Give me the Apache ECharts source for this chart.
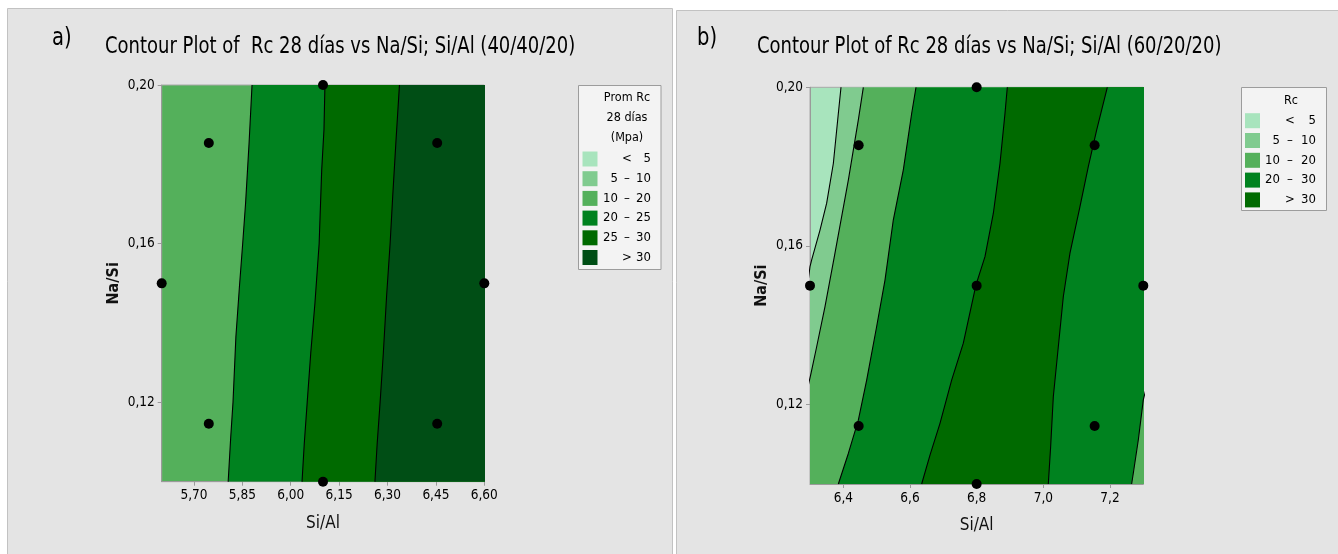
<!DOCTYPE html>
<html>
<head>
<meta charset="utf-8">
<script src="https://cdn.jsdelivr.net/npm/echarts@6/dist/echarts.min.js"></script>
<style>
  html, body { margin: 0; padding: 0; background: #ffffff; }
  #chart { width: 1338px; height: 554px; }
</style>
</head>
<body>
<div id="chart"></div>
<script>
// ---- Panel a) 40/40/20 : contour boundaries as [Si/Al, Na/Si] polylines (top to bottom)
const aEdge10_20 = [[5.880,0.200],[5.871,0.1856],[5.860,0.1702],[5.851,0.160],[5.841,0.1492],[5.830,0.1366],[5.821,0.120],[5.814,0.1113],[5.806,0.100]];
const aEdge25    = [[6.106,0.200],[6.103,0.1887],[6.096,0.1786],[6.088,0.160],[6.075,0.145],[6.062,0.1324],[6.051,0.120],[6.042,0.1097],[6.035,0.100]];
const aEdge30    = [[6.337,0.200],[6.326,0.1856],[6.316,0.1718],[6.308,0.160],[6.297,0.1466],[6.287,0.1324],[6.277,0.120],[6.268,0.1097],[6.261,0.100]];
const aPointsX = [5.6, 5.746, 5.746, 6.1, 6.1, 6.454, 6.454, 6.6];
const aPointsY = [0.15, 0.1146, 0.1854, 0.10, 0.20, 0.1146, 0.1854, 0.15];
const aTicksX = [5.70, 5.85, 6.00, 6.15, 6.30, 6.45, 6.60];
const aTicksY = [0.12, 0.16, 0.20];

// ---- Panel b) 60/20/20
const bEdge5      = [[6.393,0.200],[6.385,0.1934],[6.370,0.1808],[6.350,0.1708],[6.330,0.1640],[6.305,0.1565],[6.300,0.1548],[6.285,0.145],[6.200,0.100]];
const bEdge10     = [[6.460,0.200],[6.445,0.1918],[6.415,0.1766],[6.373,0.1573],[6.345,0.1447],[6.320,0.1346],[6.303,0.1279],[6.290,0.123],[6.230,0.100]];
const bEdge20     = [[6.618,0.200],[6.605,0.1934],[6.580,0.1792],[6.550,0.1666],[6.525,0.1514],[6.500,0.1397],[6.470,0.1262],[6.445,0.1161],[6.415,0.1077],[6.385,0.100]];
const bEdge30     = [[6.892,0.200],[6.885,0.1934],[6.870,0.1808],[6.850,0.1682],[6.825,0.1573],[6.798,0.1502],[6.760,0.1355],[6.725,0.1262],[6.690,0.1153],[6.660,0.1073],[6.635,0.100]];
const bEdge30R    = [[7.192,0.200],[7.160,0.1892],[7.135,0.180],[7.110,0.1699],[7.080,0.1582],[7.060,0.1472],[7.045,0.1346],[7.030,0.1220],[7.022,0.1094],[7.015,0.100]];
const bEdge20R    = [[7.320,0.128],[7.300,0.1212],[7.285,0.1111],[7.270,0.1027],[7.265,0.100]];
const bPointsX = [6.3, 6.446, 6.446, 6.8, 6.8, 6.8, 7.154, 7.154, 7.3];
const bPointsY = [0.15, 0.1146, 0.1854, 0.10, 0.15, 0.20, 0.1146, 0.1854, 0.15];
const bTicksX = [6.4, 6.6, 6.8, 7.0, 7.2];
const bTicksY = [0.12, 0.16, 0.20];

// ---- Legend bands
const aLegendTitle = ['Prom Rc', '28 días', '(Mpa)'];
const aLegendLow  = ['', '5', '10', '20', '25', ''];
const aLegendSep  = ['<', '–', '–', '–', '–', '>'];
const aLegendHigh = ['5', '10', '20', '25', '30', '30'];
const bLegendTitle = ['Rc'];
const bLegendLow  = ['', '5', '10', '20', ''];
const bLegendSep  = ['<', '–', '–', '–', '>'];
const bLegendHigh = ['5', '10', '20', '30', '30'];

const C_LT5 = '#a8e4bd', C_5_10 = '#80cb8f', C_10_20 = '#54b05b', C_20_25 = '#00821f', C_25_30 = '#006a00', C_GT30 = '#004e15';
const aLegendColors = [C_LT5, C_5_10, C_10_20, C_20_25, C_25_30, C_GT30];
const bLegendColors = [C_LT5, C_5_10, C_10_20, C_20_25, C_25_30];

const FONT = '"Liberation Sans Narrow","DejaVu Sans Condensed","Open Sans",sans-serif';
const comma2 = v => v.toFixed(2).replace('.', ',');
const comma1 = v => v.toFixed(1).replace('.', ',');

// region to the right of a boundary, filled up to far past the right edge and clipped to the grid
function band(idx, edge, color) {
  return {
    type: 'custom', xAxisIndex: idx, yAxisIndex: idx, clip: true, silent: true,
    data: edge, encode: { x: 0, y: 1 },
    renderItem: (params, api) => {
      if (params.dataIndex !== 0) return null;
      const first = edge[0], last = edge[edge.length - 1];
      const pts = edge.map(p => api.coord(p));
      pts.push(api.coord([last[0] + 5, last[1]]), api.coord([first[0] + 5, first[1]]));
      return { type: 'polygon', shape: { points: pts }, style: { fill: color } };
    },
    z: 2
  };
}
function edgeLine(idx, edge) {
  return {
    type: 'line', xAxisIndex: idx, yAxisIndex: idx, data: edge, clip: true, silent: true,
    showSymbol: false, symbol: 'none', lineStyle: { color: '#000', width: 1.1 }, z: 3
  };
}
function points(idx, xs, ys) {
  return {
    type: 'scatter', xAxisIndex: idx, yAxisIndex: idx, clip: false, silent: true,
    data: xs.map((x, i) => [x, ys[i]]), symbolSize: 10, itemStyle: { color: '#000', opacity: 1 }, z: 5
  };
}
function xAxis(idx, min, max, ticks, fmt) {
  return {
    type: 'value', gridIndex: idx, min: min, max: max, name: 'Si/Al', nameLocation: 'middle', nameGap: 33,
    nameTextStyle: { fontFamily: FONT, fontSize: 17, color: '#111' },
    axisLine: { show: true, onZero: false, lineStyle: { color: '#9a9a9a' } },
    axisTick: { show: true, customValues: ticks, length: 4, lineStyle: { color: '#9a9a9a' } },
    axisLabel: { customValues: ticks, formatter: fmt, margin: 7, fontFamily: FONT, fontSize: 13.5, color: '#000' },
    splitLine: { show: false }
  };
}
function yAxis(idx, ticks) {
  return {
    type: 'value', gridIndex: idx, min: 0.10, max: 0.20, name: 'Na/Si', nameLocation: 'middle', nameGap: 40,
    nameTextStyle: { fontFamily: FONT, fontSize: 16, fontWeight: 'bold', color: '#111' },
    axisLine: { show: true, onZero: false, lineStyle: { color: '#9a9a9a' } },
    axisTick: { show: true, customValues: ticks, length: 4, lineStyle: { color: '#9a9a9a' } },
    axisLabel: { customValues: ticks, formatter: comma2, margin: 7, fontFamily: FONT, fontSize: 13.5, color: '#000' },
    splitLine: { show: false }
  };
}
function legend(box, titleLines, low, sep, high, colors, cols) {
  const els = [{ type: 'rect', shape: box, style: { fill: '#f3f3f3', stroke: '#9c9c9c', lineWidth: 1 }, z: 10 }];
  titleLines.forEach((t, i) => els.push({
    type: 'text', x: cols.title, y: cols.titleY + i * 20, z: 11,
    style: { text: t, fontFamily: FONT, fontSize: 12.5, fill: '#000', align: 'center', verticalAlign: 'middle' }
  }));
  colors.forEach((c, i) => {
    const y = cols.rowY + i * cols.step;
    els.push({ type: 'rect', shape: { x: cols.sw, y: y - 7.5, width: 15, height: 15 }, style: { fill: c }, z: 11 });
    const ts = (t, x, align) => ({ type: 'text', x: x, y: y, z: 11,
      style: { text: t, fontFamily: FONT, fontSize: 13, fill: '#000', align: align, verticalAlign: 'middle' } });
    if (low[i]) els.push(ts(low[i], cols.low, 'right'));
    els.push(ts(sep[i], cols.sep, 'center'));
    els.push(ts(high[i], cols.high, 'right'));
  });
  return els;
}
// condensed-looking heading text
function heading(x, y, text, size) {
  return { type: 'text', x: x, y: y, scaleX: 0.87, style: { text: text, fontFamily: FONT, fontSize: size, fill: '#000', verticalAlign: 'middle' } };
}

const chart = echarts.init(document.getElementById('chart'), null, { renderer: 'canvas' });
chart.setOption({
  animation: false,
  backgroundColor: '#ffffff',
  grid: [
    { left: 161.7, top: 85, width: 322.6, height: 396.7, show: true, backgroundColor: C_10_20, borderColor: '#a8a8a8', borderWidth: 1 },
    { left: 810, top: 87.3, width: 333.3, height: 396.7, show: true, backgroundColor: C_LT5, borderColor: '#a8a8a8', borderWidth: 1 }
  ],
  xAxis: [xAxis(0, 5.6, 6.6, aTicksX, comma2), xAxis(1, 6.3, 7.3, bTicksX, comma1)],
  yAxis: [yAxis(0, aTicksY), yAxis(1, bTicksY)],
  series: [
    band(0, aEdge10_20, C_20_25), band(0, aEdge25, C_25_30), band(0, aEdge30, C_GT30),
    edgeLine(0, aEdge10_20), edgeLine(0, aEdge25), edgeLine(0, aEdge30),
    points(0, aPointsX, aPointsY),
    band(1, bEdge5, C_5_10), band(1, bEdge10, C_10_20), band(1, bEdge20, C_20_25),
    band(1, bEdge30, C_25_30), band(1, bEdge30R, C_20_25), band(1, bEdge20R, C_10_20),
    edgeLine(1, bEdge5), edgeLine(1, bEdge10), edgeLine(1, bEdge20),
    edgeLine(1, bEdge30), edgeLine(1, bEdge30R), edgeLine(1, bEdge20R),
    points(1, bPointsX, bPointsY)
  ],
  graphic: [
    { type: 'rect', shape: { x: 7.5, y: 8.5, width: 665, height: 560 }, style: { fill: '#e4e4e4', stroke: '#c2c2c2', lineWidth: 1 }, z: -10, silent: true },
    { type: 'rect', shape: { x: 676.5, y: 10.5, width: 670, height: 560 }, style: { fill: '#e4e4e4', stroke: '#c2c2c2', lineWidth: 1 }, z: -10, silent: true },
    heading(52, 38, 'a)', 25),
    heading(105, 47, 'Contour Plot of  Rc 28 días vs Na/Si; Si/Al (40/40/20)', 23),
    heading(697, 38, 'b)', 25),
    heading(757, 47, 'Contour Plot of Rc 28 días vs Na/Si; Si/Al (60/20/20)', 23),
    ...legend({ x: 578.5, y: 85.5, width: 82.5, height: 184 }, aLegendTitle, aLegendLow, aLegendSep, aLegendHigh, aLegendColors,
      { title: 627, titleY: 98, rowY: 159, step: 19.7, sw: 582.5, low: 618, sep: 627, high: 651 }),
    ...legend({ x: 1241.5, y: 87.5, width: 85, height: 123 }, bLegendTitle, bLegendLow, bLegendSep, bLegendHigh, bLegendColors,
      { title: 1291, titleY: 101, rowY: 120.7, step: 19.8, sw: 1245, low: 1280, sep: 1290, high: 1316 })
  ]
});
</script>
</body>
</html>
